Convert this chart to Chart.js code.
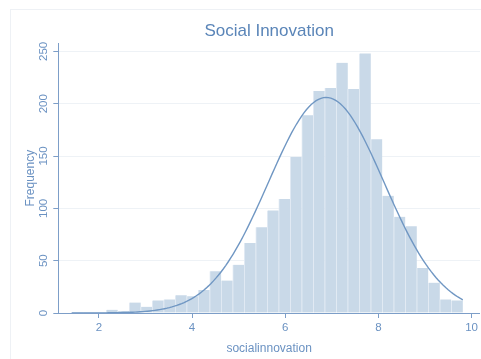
<!DOCTYPE html>
<html>
<head>
<meta charset="utf-8">
<script src="https://cdn.jsdelivr.net/npm/chart.js@4/dist/chart.umd.min.js"></script>
<style>
  html, body { margin: 0; padding: 0; background: #fff; }
  #wrap { width: 481px; height: 359px; }
</style>
</head>
<body>
<div id="wrap"><canvas id="c" width="481" height="359"></canvas></div>
<script>
// Histogram of socialinnovation: 34 equal-width bins
const binStart = 1.417;
const binWidth = 0.2469;
const counts = [1, 1, 1, 3, 2, 10, 6, 12, 13, 17, 16, 22, 40, 31, 46, 67, 82,
                98, 109, 149, 189, 212, 215, 239, 214, 248, 166, 112, 92, 83, 43, 29, 13, 12];
const xTicks = [2, 4, 6, 8, 10];
const yTicks = [0, 50, 100, 150, 200, 250];
// Normal density overlay parameters (mean, standard deviation)
const fitMean = 6.88;
const fitSD = 1.24;

const titleColor = '#5a85b8';
const textColor = '#6b92c2';
const axisColor = '#7d9ec8';
const barColor = '#c9d9e8';
const curveColor = '#7097c3';
const gridColor = '#eef2f6';

const barData = counts.map((c, i) => ({ x: binStart + binWidth * (i + 0.5), y: c }));

const total = counts.reduce((a, b) => a + b, 0);
const curveLo = binStart;
const curveHi = binStart + binWidth * counts.length;
const curveData = [];
for (let k = 0; k <= 160; k++) {
  const x = curveLo + (curveHi - curveLo) * k / 160;
  const z = (x - fitMean) / fitSD;
  curveData.push({ x: x, y: total * binWidth * Math.exp(-0.5 * z * z) / (fitSD * Math.sqrt(2 * Math.PI)) });
}

const framePlugin = {
  id: 'frame',
  beforeDraw(chart) {
    const ctx = chart.ctx;
    ctx.save();
    ctx.fillStyle = '#ffffff';
    ctx.fillRect(0, 0, chart.width, chart.height);
    ctx.strokeStyle = '#eef1f5';
    ctx.lineWidth = 1;
    ctx.strokeRect(10.5, 9.5, chart.width, chart.height);
    ctx.restore();
  }
};

new Chart(document.getElementById('c'), {
  type: 'bar',
  data: {
    datasets: [
      {
        type: 'line',
        data: curveData,
        borderColor: curveColor,
        borderWidth: 1.4,
        pointRadius: 0,
        fill: false,
        tension: 0,
        order: 0
      },
      {
        type: 'bar',
        data: barData,
        backgroundColor: barColor,
        borderColor: '#e3ebf4',
        borderWidth: { left: 1, right: 0, top: 0, bottom: 0 },
        borderSkipped: false,
        barPercentage: 1,
        categoryPercentage: 1,
        grouped: false,
        order: 1
      }
    ]
  },
  options: {
    responsive: false,
    animation: false,
    devicePixelRatio: 1,
    layout: { padding: { left: 0, right: 0, top: 0, bottom: 0 } },
    plugins: {
      legend: { display: false },
      tooltip: { enabled: false },
      title: {
        display: true,
        fullSize: false,
        text: 'Social Innovation',
        color: titleColor,
        font: { family: 'Liberation Sans, Arial, sans-serif', size: 17, weight: 'normal' },
        padding: { top: 21, bottom: 2 }
      }
    },
    scales: {
      x: {
        type: 'linear',
        min: 1.13,
        max: 10.18,
        offset: false,
        afterBuildTicks(scale) { scale.ticks = xTicks.map(v => ({ value: v })); },
        afterFit(scale) { scale.height = 46; },
        border: { color: axisColor, width: 1 },
        grid: { offset: false, drawOnChartArea: false, tickColor: axisColor, tickLength: 5 },
        ticks: {
          color: textColor,
          font: { family: 'Liberation Sans, Arial, sans-serif', size: 11.5 },
          padding: 3,
          maxRotation: 0,
          autoSkip: false
        },
        title: {
          display: true,
          text: 'socialinnovation',
          color: textColor,
          font: { family: 'Liberation Sans, Arial, sans-serif', size: 12 },
          padding: { top: 0, bottom: 3.5 }
        }
      },
      y: {
        type: 'linear',
        min: 0,
        max: 257.6,
        afterBuildTicks(scale) { scale.ticks = yTicks.map(v => ({ value: v })); },
        afterFit(scale) { scale.width = 58.3; },
        border: { color: axisColor, width: 1 },
        grid: {
          color: ctx => (ctx.tick && ctx.tick.value === 0 ? 'rgba(0,0,0,0)' : gridColor),
          tickColor: axisColor,
          tickLength: 5
        },
        ticks: {
          color: textColor,
          font: { family: 'Liberation Sans, Arial, sans-serif', size: 11.5 },
          minRotation: 90,
          maxRotation: 90,
          crossAlign: 'center',
          padding: 0,
          autoSkip: false
        },
        title: {
          display: true,
          text: 'Frequency',
          color: textColor,
          font: { family: 'Liberation Sans, Arial, sans-serif', size: 12 },
          padding: { top: 23.5, bottom: 0 }
        }
      }
    }
  },
  plugins: [framePlugin]
});
</script>
</body>
</html>
